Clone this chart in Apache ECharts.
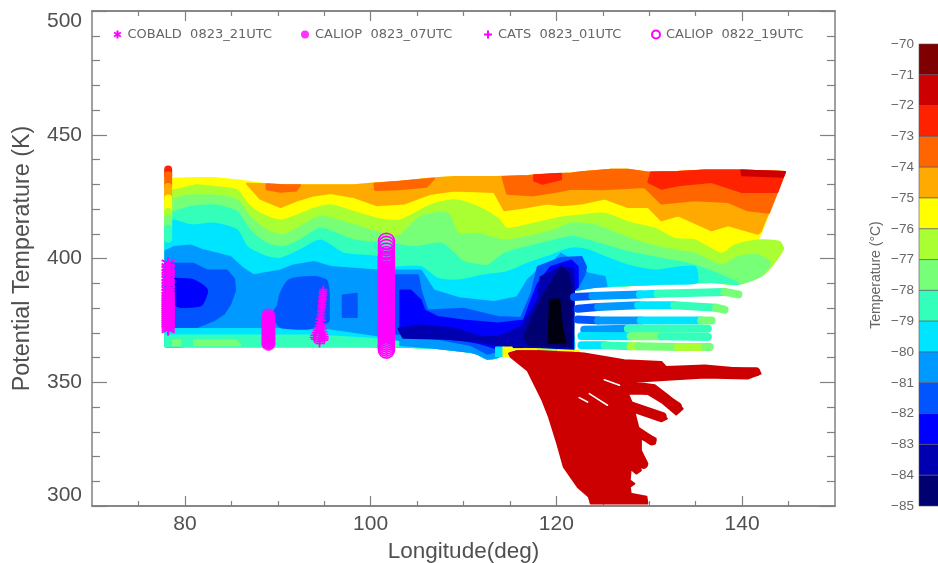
<!DOCTYPE html>
<html><head><meta charset="utf-8">
<style>html,body{margin:0;padding:0;background:#fff;overflow:hidden}#c{width:938px;height:563px}</style>
<script src="https://cdn.jsdelivr.net/npm/echarts@6/dist/echarts.min.js"></script>
</head><body><div id="c"></div>
<script>
// Temperature classes (colour bar), warmest first; last one is below scale
const tempEdges=[-70,-71,-72,-73,-74,-75,-76,-77,-78,-79,-80,-81,-82,-83,-84,-85];
const palette=['#7f0000','#cc0000','#ff2200','#ff6600','#ffaa00','#ffff00','#aaff33','#77ff77','#33ffbb','#00e5ff','#0099ff','#0055ff','#0000ff','#0000b0','#000070','#000010'];

// Axis ticks
const lonMajorTicks=[80,100,120,140];
const lonMinorTicks=[75,85,90,95,105,110,115,125,130,135,145];

// Outline of the sampled field
const envelopeTop=[[77.9,432.2],[78.6,432.2],[81.3,432.5],[83,432.5],[85.6,431.6],[87,430.9],[88.8,430],[90.6,429.6],[92.4,429.6],[94.6,429.6],[98.2,429.6],[100,430.2],[103.2,431],[106.5,432.3],[109,432.9],[113.5,432.9],[116.9,433.3],[119.8,434],[121.6,434.3],[122.7,434.9],[125.9,435.9],[127.7,435.9],[130,434.7],[133,435],[136,435.6],[139.9,435.6],[144.6,434.9]];
const slantEdge=[[141.7,407.3],[144,406.7],[144.4,404],[143.2,397.2],[142.1,393.2]];
const bottomRight=[[139.6,389.8],[136.7,390.5],[131.3,389.8],[124.1,388.5],[121.8,387.1]];
const bottomLeft=[[121.8,378],[121.8,370],[121.8,362.5],[118,363],[114.9,363.6],[113.7,360.2],[112.6,359.5],[111.5,361.5],[110.8,362.2],[106.5,364],[100,364.5],[95,364.5],[90,364.5],[85,364.5],[80,364.5],[77.9,364.5],[77.9,368],[77.9,380],[77.9,395],[77.9,405]];

// Warm patches along the top
const orangeLower=[[86.7,430.2],[88.1,424.2],[90.3,420.8],[92.1,423.5],[93.9,425.5],[95.7,426.5],[98.2,424.8],[100.7,421.5],[103.6,422.2],[106.5,426.2],[109,427.5],[113.3,426.9],[114.4,419.5],[116.9,420.8],[119,422.2],[120.5,421.5],[122.7,422.2],[125.2,424.2],[127.7,420.8],[129.9,420.8],[131.3,415.4],[133.1,417.4],[136.7,411.4],[138.5,413.4],[141.7,410],[142,411]];
const darkOrangeA=[[88.8,430],[90.6,429.6],[92.4,429.6],[92,427.5],[90.3,427],[88.8,428]];
const darkOrangeB=[[100.4,430.2],[103,431],[106.8,432.2],[106,429],[103,428],[100.5,427.7]];
const darkOrangeC=[[114.2,432.9],[116.9,433.3],[119.8,434],[121.6,434.3],[122.7,434.9],[125.9,435.9],[127.7,435.9],[130,434.7],[133,435],[136,435.6],[139.9,435.6],[144.6,434.9],[142.9,418.5],[140.6,419.5],[138.5,422.8],[134.9,423.5],[131.3,422.2],[129.5,428.9],[125,428],[121.6,428.2],[119.8,426.9],[117.6,425.5],[114.7,426.2]];
const redA=[[117.6,433.6],[120.5,434.2],[120.5,432],[118.5,430.2],[117.6,431.5]];
const redB=[[130.2,434.7],[133,435],[136,435.6],[139.9,435.6],[144.6,434.9],[143.8,426.9],[139.9,426.9],[136.7,430.9],[133.1,429.6],[131.3,428.2],[129.9,430.9]];
const darkRedTop=[[139.9,435.6],[144.6,434.9],[144.4,433],[140,433.6]];

// Top boundaries of successively colder classes
const lineM76=[[77.9,427.5],[78.8,427.5],[81.3,429.6],[83.1,428.9],[85.6,427.5],[86.7,422.2],[88.1,418.1],[90.3,415.4],[92.1,417.4],[93.9,420.1],[95.7,421.5],[98.2,418.8],[100.7,416.1],[103.2,415.4],[106.5,421.5],[109,423.5],[111.5,420.8],[113.7,416.1],[114.7,412],[117.6,414.1],[120.5,416.5],[122.7,417.4],[125.2,418.1],[127.7,414.7],[130.6,412],[132.7,408],[134.9,407.3],[137.8,401.9],[139.2,405.3],[141.7,407.3],[144,406.7],[144.4,404],[143.2,397.2],[142.1,393.2]];
const lineM77=[[77.9,424.2],[78.8,424.2],[80.6,425.5],[83.1,425.5],[85.6,423.5],[87,416.8],[88.8,411.4],[90.6,409.4],[92.4,412.7],[94.6,416.8],[98.2,413.4],[100.7,410.7],[102.9,408.7],[105.4,416.8],[108.3,418.1],[109.4,410],[111.5,410],[114.4,407.3],[116.9,408.7],[119.8,411.4],[121.6,414.1],[124.1,413.4],[128.4,407.3],[131.6,404],[134.9,401.9],[137.8,397.2],[139.6,400.6],[141.7,401.3],[143,398],[142.1,393.2]];
const lineM78=[[77.9,418.8],[78.8,418.8],[80.6,420.8],[83.1,421.5],[85.6,418.8],[87,411.4],[88.8,406],[90.6,404.6],[92.4,407.3],[94.6,412],[98.2,407.3],[102,406],[104.7,404.6],[107.6,406],[109,401.9],[110,398.6],[112.6,397.2],[114.4,401.9],[116.9,404.6],[119.8,407.3],[121.6,408.7],[123.4,407.3],[127.7,402.6],[131.3,399.9],[134.9,397.2]];
const lineM79=[[77.9,414.5],[78.8,415.4],[80.6,413.4],[83.1,414.1],[85.6,411.4],[86.7,404.6],[88.8,400.6],[90.3,399.9],[92.4,403.3],[94.6,407.3],[97.1,401.9],[100.7,400.6],[102.5,396.6],[105.4,396.6],[107.2,391.8],[109.7,391.2],[112.2,393.2],[114.7,394.5],[116.9,397.9],[119,400.6],[121.6,404],[123.4,403.3],[125.2,400.6],[127.7,397.2],[130.6,395.2],[134.9,396.6],[135.2,390.5]];
const stripAqua=[[77.9,368.9],[94,368.9],[100,367.6],[103,366.3],[103,364.5],[77.9,364.5]];
const stripGreenA=[[78.7,367],[79.5,367],[79.5,365],[78.7,365]];
const stripGreenB=[[81,367],[85.5,367],[86,365],[81,365]];
const lineM80=[[77.9,403],[78.8,404.6],[80.6,405.3],[82,403.3],[84.9,400.6],[86.3,395.9],[87.4,393.2],[90.3,395.2],[91.7,397.2],[93.9,398.6],[95.7,396.6],[100.7,395.2],[105.4,395.2],[106.8,387.1],[109.7,383.8],[113.3,382.4],[115.8,384.4],[116.9,391.2],[118,395.2],[119.8,399.2],[120.5,401.9],[122.3,397.9],[123.4,393.9],[125.2,392.5],[125.4,389],[124.1,388.5],[121.8,387.1],[121.8,362.5],[114.9,363.6],[113.7,360.2],[112.6,359.5],[111.5,361.5],[110.8,362.2],[106.5,364],[103.2,365],[103.2,367],[100.7,369],[94.6,372.3],[77.9,372.3]];
const blobM81A=[[77.9,398.6],[79,397.9],[80.9,397.9],[82.4,395.2],[84.5,395.2],[85.3,391.8],[85.4,387.1],[84.9,381.7],[84.2,377.7],[83.1,375],[81.3,372.3],[78.5,372.3],[77.9,373]];
const blobM81B=[[90.3,385.8],[91.2,391.2],[93.9,392.5],[95.2,391.2],[95.5,385.8],[95.5,375],[93.2,371.6],[90.3,372.3],[89.5,377.7],[90,381.1]];
const blobM81C=[[97,385.1],[98.5,385.8],[98.5,376.4],[97,376.4]];
const blobM81D=[[102.7,393.2],[105.1,393.2],[105.4,387.1],[106.1,379],[110,379.7],[113.7,376.4],[116.2,376],[117.3,385.8],[118,396.6],[120.5,400.2],[122.7,400.6],[123.2,396.6],[123,393.2],[122.3,388.5],[121.8,387.1],[121.8,362.5],[114.9,363.6],[113,362],[112.6,361.5],[110.8,365],[107.2,367.6],[103.2,369.6],[102.7,369.6]];
const blobM82A=[[78.9,391.8],[80.9,391.2],[82.4,387.1],[81.7,381.1],[79.5,380.4],[78.9,381.7]];
const blobM82B=[[103.2,387.1],[104.3,387.1],[105.4,383.1],[105.8,379],[107.2,376.4],[110,375],[113.7,373.7],[116.5,375],[117.3,383.1],[118,389.8],[119.4,396.6],[121.6,399.2],[122.3,396.6],[122.3,388.5],[121.8,387],[121.8,362.5],[115,363.6],[113.7,363.5],[111.5,366],[107.2,369],[103.2,370.5]];
const blobM83=[[103,371.6],[105.4,373],[109,371.6],[111.9,368.3],[113.7,368.3],[116.2,372.3],[118,383.1],[118.3,392.5],[120.5,396.6],[121.8,396],[121.9,388],[121.8,363],[116,364],[113.7,365],[111.5,366.5],[108,367.6],[103.5,368]];
const blobM84=[[116.5,368.3],[118.3,383.1],[119.4,389.8],[120.5,396.6],[121.3,394],[121.6,388],[121.6,364.5],[117,365]];
const blobBelow=[[119.3,383.1],[120.3,383.5],[120.6,372],[121,366],[119.2,366],[119.2,370]];
const seamCyan=[[113.5,364],[114.3,364],[114.3,360.5],[113.5,360.5]];
const seamYellow=[[114.3,364],[115.2,364],[115.2,360.5],[114.3,360.5]];
const coldPlume=[[114.9,361.6],[116.5,363.6],[123,361.6],[127.3,358.9],[131.3,358.2],[131.8,356.2],[136,356.8],[141.7,354.8],[142,353.5],[140.6,351.5],[136,351.9],[128,350.1],[130.6,348.8],[132,344.7],[133.6,339.3],[132.9,337],[131.3,342],[129.8,345.4],[127.7,345.4],[128.4,339.3],[130.6,338],[131.9,335.3],[131.3,334.2],[128.4,338],[128.9,330.6],[130.7,327.2],[130.6,325.2],[129.1,327.2],[129.1,322.5],[129.8,317.1],[129.3,315.8],[128.8,319.1],[129.1,314.4],[128.6,313.1],[128,315.1],[127.9,310.4],[128.4,309],[127.9,307.7],[128,305],[129.7,303.7],[129.8,301],[123.7,301],[123.5,303.7],[122.3,307.7],[120.8,315.8],[120.1,325.2],[119.2,336],[118.5,342.7],[116.9,354.8],[115.1,360.2]];
const plumeGapA=[[122.46,343.8],[123.36,342]];
const plumeGapB=[[123.54,345.4],[125.5,340.7]];
const plumeGapC=[[125.16,351],[126.8,348.8]];

// Streaks right of the cold core: [lon, theta, temperature of the following stretch]
const streakA=[[121.9,384.4,-81.5],[123.9,384.8,-80.5],[129,385.5,-79.5],[130.9,385.8,-78.5],[138.1,386.5,-77.5],[139.6,385.5,-77.5]];
const streakB=[[122.3,379.7,-81.5],[124.5,380.4,-80.5],[128.8,381.1,-79.5],[132.7,381.1,-78.5],[137.2,380.1,-77.5],[138.1,379.3,-77.5]];
const streakC=[[122.3,375.4,-81.5],[124.5,375,-80.5],[129.1,375,-79.5],[135.6,375,-77.5],[136.7,375,-77.5]];
const streakD=[[123,371.2,-80.5],[127.7,371.6,-78.5],[131.3,371.6,-78.5],[136.3,371.6,-77.5]];
const streakE=[[122.7,368.7,-79.5],[128,368.6,-77.5],[131.3,368.6,-78.5],[136.3,368.3,-77.5]];
const streakF=[[122.7,364.9,-79.5],[125.2,364.9,-78.5],[128,364.5,-76.5],[128.8,364.5,-77.5],[133.1,364.2,-76.5],[136,364.2,-77.5],[136.5,364.2,-77.5]];
const leftColumn=[[78.2,436,-72.5],[78.2,433.6,-73.5],[78.2,428.9,-74.5],[78.2,424.2,-75.5],[78.2,418.8,-76.5],[78.2,416,-77.5],[78.2,412,-78.5],[78.2,408,-78.5]];
const seamLine=[[115.2,363.4,-75.5],[118,363.4,-76.5],[120,363,-75.5],[122.5,362.6,-75.5]];
const plumeArmA=[[136,354.3,-71.5],[141.5,354.2,-71.5]];
const plumeArmB=[[127.5,348.5,-71.5],[130.4,346.5,-71.5],[133,340,-71.5]];
const plumeArmC=[[128,340.5,-71.5],[131.4,336.2,-71.5]];
const plumeArmD=[[128.6,330.5,-71.5],[130.3,326.3,-71.5]];
const plumeArmE=[[128.6,322,-71.5],[129.4,316.8,-71.5]];

// Measurement sites
const cobaldTheta=[398,396.6,395.4,394,392.6,391.4,390,388.6,387.2,386,385,384.2,383.4,382.6,381.8,381,380.2,379.4,378.6,377.8,377,376.2,375.4,374.6,373.8,373,372.2,371.4];
const cobaldLon=[78.2];
const caliop07Theta=[377,376,375,374,373,372,371,370,369,368,367,366,365.5];
const caliop07Lon=[89];
const catsPoints=[[94.9,387.5],[94.9,386.7],[94.85,386],[94.9,385.2],[94.8,384.5],[94.85,383.7],[94.8,383],[94.75,382.2],[94.8,381.5],[94.7,380.7],[94.75,380],[94.7,379.2],[94.65,378.5],[94.7,377.7],[94.6,377],[94.7,376.2],[94.5,375.5],[94.75,375],[94.45,374.3],[94.8,373.6],[94.4,373],[94.7,372.5],[94.3,372],[94.85,371.5],[94.2,371],[94.6,370.7],[94.9,370.3],[94.1,370],[94.5,369.7],[95,369.3],[93.95,369],[94.5,368.8],[95.05,368.4],[93.9,368.1],[94.5,368],[95.05,367.6],[94,367.4],[94.5,367.2],[95,367],[94.5,366.5],[94.5,365.7]];
const caliop19Theta=[407,405.7,404.4,403,401.6,400.6,399.8,399,398.2,397.4,396.6,395.8,395,394.2,393.4,392.6,391.8,391,390.2,389.4,388.6,387.8,387,386.2,385.4,384.6,383.8,383,382.2,381.4,380.6,379.8,379,378.2,377.4,376.6,375.8,375,374.2,373.4,372.6,371.8,371,370.2,369.4,368.6,367.8,367,366.2,365.4,364.6,363.8,363];
const caliop19Lon=[101.7];

const siteNames=['COBALD  0823_21UTC','CALIOP  0823_07UTC','CATS  0823_01UTC','CALIOP  0822_19UTC'];
const thetaTicksMajor=50;

const layers=[
 {t:-75.5,pts:envelopeTop.concat(slantEdge,bottomRight,bottomLeft)},
 {t:-74.5,pts:envelopeTop.slice(6).concat(orangeLower.slice().reverse())},
 {t:-73.5,pts:darkOrangeA},{t:-73.5,pts:darkOrangeB},{t:-73.5,pts:darkOrangeC},
 {t:-72.5,pts:redA},{t:-72.5,pts:redB},{t:-71.5,pts:darkRedTop},
 {t:-76.5,pts:lineM76.concat(bottomRight,bottomLeft),soft:1},
 {t:-77.5,pts:lineM77.concat(bottomRight,bottomLeft),soft:1},
 {t:-78.5,pts:lineM78.concat(bottomRight,bottomLeft),soft:1},
 {t:-79.5,pts:lineM79.concat(bottomRight.slice(2),bottomLeft),soft:1},
 {t:-78.5,pts:stripAqua},{t:-77.5,pts:stripGreenA},{t:-77.5,pts:stripGreenB},
 {t:-80.5,pts:lineM80},
 {t:-81.5,pts:blobM81A},{t:-81.5,pts:blobM81B,soft:1},{t:-81.5,pts:blobM81C},{t:-81.5,pts:blobM81D},
 {t:-82.5,pts:blobM82A,soft:1},{t:-82.5,pts:blobM82B},
 {t:-83.5,pts:blobM83},{t:-84.5,pts:blobM84},{t:-85.5,pts:blobBelow},
 {t:-79.5,pts:seamCyan},{t:-75.5,pts:seamYellow},
 {t:-71.5,pts:coldPlume}
];
const traces=[[streakA,8],[streakB,8],[streakC,8],[streakD,8],[streakE,8],[streakF,8],[leftColumn,8],[plumeArmA,9],[plumeArmB,10],[plumeArmC,9],[plumeArmD,9],[plumeArmE,9]];
const plumeGaps=[plumeGapA,plumeGapB,plumeGapC];
const colorOf=t=>palette[Math.floor(-70-t)];
const grey='#808080', txt='#505050';

const star='path://M12 0V24M1.6 6L22.4 18M22.4 6L1.6 18';
const plus='path://M12 0V24M0 12H24';
const site=(name,data,symbol,size,style)=>({name,type:'scatter',data,symbol,symbolSize:size,itemStyle:style,xAxisIndex:0,yAxisIndex:0,z:5,silent:true,clip:true});
const magenta='#ff00ff';
const strokeStyle=w=>({color:'rgba(255,0,255,0)',borderColor:magenta,borderWidth:w,opacity:1});

const lonAxis=(position,extra)=>Object.assign({type:'value',gridIndex:0,position,min:70,max:150,axisLine:{show:true,onZero:false,lineStyle:{color:grey,width:1.5}},
 axisTick:{show:true,inside:true,length:10,customValues:lonMajorTicks,lineStyle:{color:grey,width:1.2}},axisLabel:{show:false},splitLine:{show:false}},extra||{});
const lonMinor=position=>lonAxis(position,{axisTick:{show:true,inside:true,length:5,customValues:lonMinorTicks,lineStyle:{color:grey,width:1.2}}});
const thetaAxisCommon={min:300,max:500,interval:thetaTicksMajor,axisLine:{show:true,onZero:false,lineStyle:{color:grey,width:1.5}},
 axisTick:{show:true,inside:true,length:15,lineStyle:{color:grey,width:1.2}},minorTick:{show:true,splitNumber:5,length:8,lineStyle:{color:grey,width:1.2}},splitLine:{show:false},minorSplitLine:{show:false}};
const legendAt=(name,left)=>({data:[name],left,top:28,orient:'horizontal',itemWidth:8,itemHeight:8,itemGap:0,padding:0,selectedMode:false,
 textStyle:{fontFamily:'DejaVu Sans',fontSize:13,color:'#666',padding:[0,0,0,1]}});

const chart=echarts.init(document.getElementById('c'),null,{renderer:'canvas'});
chart.setOption({
 animation:false,backgroundColor:'#fff',
 legend:[legendAt(siteNames[0],113),legendAt(siteNames[1],301),legendAt(siteNames[2],483),legendAt(siteNames[3],651)],
 grid:[{left:92,right:103,top:11,bottom:57,outerBoundsMode:'none'},{left:919,width:40,top:44,height:462,outerBoundsMode:'none'}],
 xAxis:[
  lonAxis('bottom',{axisLabel:{show:true,customValues:lonMajorTicks,fontFamily:'Liberation Sans',fontSize:21,color:txt,margin:8},
   name:'Longitude(deg)',nameLocation:'middle',nameGap:27,nameTextStyle:{fontFamily:'Liberation Sans',fontSize:22.5,color:txt}}),
  lonAxis('top'),
  {type:'value',gridIndex:1,min:0,max:1,show:false},
  lonMinor('bottom'),lonMinor('top')
 ],
 yAxis:[
  Object.assign({},thetaAxisCommon,{type:'value',gridIndex:0,position:'left',axisLabel:{fontFamily:'Liberation Sans',fontSize:21,color:txt,margin:10,verticalAlignMinLabel:'bottom',verticalAlignMaxLabel:'top'},
   name:'Potential Temperature (K)',nameLocation:'middle',nameGap:58,nameTextStyle:{fontFamily:'Liberation Sans',fontSize:23.3,color:txt}}),
  Object.assign({},thetaAxisCommon,{type:'value',gridIndex:0,position:'right',axisLabel:{show:false}}),
  {type:'value',gridIndex:1,position:'left',min:-85,max:-70,interval:1,axisLine:{show:false},axisTick:{show:false},splitLine:{show:false},
   axisLabel:{fontFamily:'Liberation Sans',fontSize:13.5,color:'#666',margin:5,formatter:v=>String(v).replace('-','\u2212')},
   name:'Temperature (\u00b0C)',nameLocation:'middle',nameGap:36,nameTextStyle:{fontFamily:'Liberation Sans',fontSize:14,color:'#666'}}
 ],
 series:[
  {type:'custom',name:'field',silent:true,xAxisIndex:0,yAxisIndex:0,clip:true,z:2,data:layers.map((_,i)=>[i]),
   renderItem:(p,api)=>{const l=layers[api.value(0)];const c=colorOf(l.t);const pts=l.pts.map(q=>api.coord(q));
    return {type:'polygon',shape:{points:pts,smooth:l.soft?0.25:0,smoothConstraint:l.soft?[pts[0],pts[0]]:undefined},style:{fill:c,stroke:c,lineWidth:2,lineJoin:'round'}};}},
  {type:'custom',name:'streaks',silent:true,xAxisIndex:0,yAxisIndex:0,clip:true,z:3,data:traces.map((_,i)=>[i]),
   renderItem:(p,api)=>{const tr=traces[api.value(0)];const kids=[];const q=tr[0];
    for(let i=0;i<q.length-1;i++){kids.push({type:'polyline',shape:{points:[api.coord(q[i]),api.coord(q[i+1])]},style:{stroke:colorOf(q[i][2]),fill:null,lineWidth:tr[1],lineCap:'round'}});}
    return {type:'group',children:kids};}},
  {type:'custom',name:'seam',silent:true,xAxisIndex:0,yAxisIndex:0,clip:true,z:4,data:[[0]],
   renderItem:(p,api)=>{const kids=[];
    for(let i=0;i<seamLine.length-1;i++){kids.push({type:'polyline',shape:{points:[api.coord(seamLine[i]),api.coord(seamLine[i+1])]},style:{stroke:colorOf(seamLine[i][2]),fill:null,lineWidth:2}});}
    return {type:'group',children:kids};}},
  {type:'custom',name:'plumeGaps',silent:true,xAxisIndex:0,yAxisIndex:0,clip:true,z:4,data:plumeGaps.map((_,i)=>[i]),
   renderItem:(p,api)=>{const g=plumeGaps[api.value(0)];
    return {type:'polyline',shape:{points:g.map(q=>api.coord(q))},style:{stroke:'#fff',fill:null,lineWidth:1.6,lineCap:'round'}};}},
  {type:'custom',name:'colorbar',silent:true,xAxisIndex:2,yAxisIndex:2,clip:false,z:2,data:tempEdges.slice(0,15).map((e,i)=>[i]),
   renderItem:(p,api)=>{const i=api.value(0);const a=api.coord([0,tempEdges[i]]),b=api.coord([1,tempEdges[i]-1]);
    return {type:'rect',shape:{x:a[0],y:a[1],width:b[0]-a[0],height:b[1]-a[1]},style:{fill:palette[i],stroke:'#556',lineWidth:0.6}};}},
  site(siteNames[0],cobaldTheta.map(t=>[cobaldLon[0],t]),star,13,strokeStyle(2)),
  site(siteNames[1],caliop07Theta.map(t=>[caliop07Lon[0],t]),'circle',14,{color:magenta}),
  site(siteNames[2],catsPoints,plus,8,strokeStyle(1.6)),
  site(siteNames[3],caliop19Theta.map(t=>[caliop19Lon[0],t]),'circle',16,strokeStyle(1.6))
 ]
});
</script></body></html>
